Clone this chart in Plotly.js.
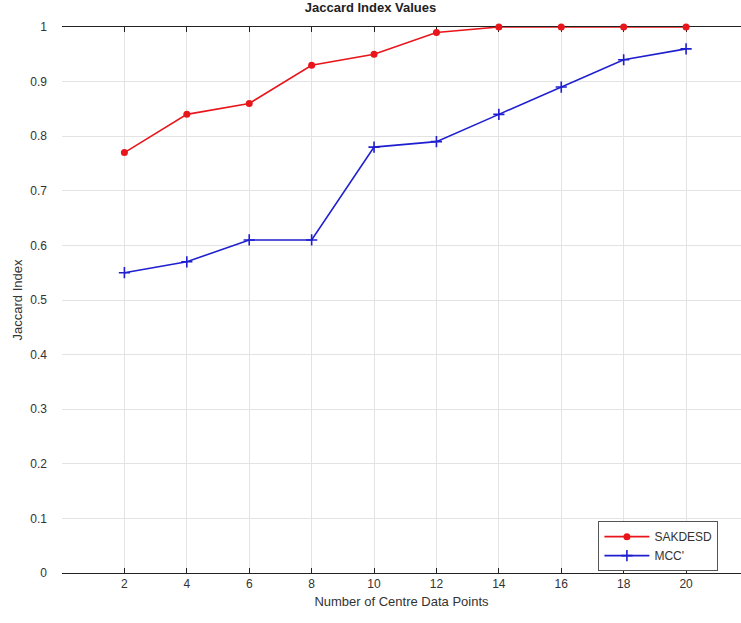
<!DOCTYPE html>
<html><head><meta charset="utf-8">
<script src="https://cdn.plot.ly/plotly-3.0.1.min.js"></script>
<style>body{margin:0;background:#fff}#c{width:741px;height:623px}</style>
</head><body><div id="c"></div>
<script>
const centres = [2,4,6,8,10,12,14,16,18,20];
const sakdesd = [0.77,0.84,0.86,0.93,0.95,0.99,1.0,1.0,1.0,1.0];
const mcc = [0.55,0.57,0.61,0.61,0.78,0.79,0.84,0.89,0.94,0.96];
const yTicks = [0,0.1,0.2,0.3,0.4,0.5,0.6,0.7,0.8,0.9,1];
const yTickText = ['0','0.1','0.2','0.3','0.4','0.5','0.6','0.7','0.8','0.9','1'];

const traces = [
  {x: centres, y: sakdesd, name: 'SAKDESD', mode: 'lines+markers', cliponaxis: false,
   line: {color: '#e8161b', width: 1.6},
   marker: {symbol: 'circle', size: 7, color: '#e8161b'}},
  {x: centres, y: mcc, name: "MCC'", mode: 'lines+markers', cliponaxis: false,
   line: {color: '#1f1fd0', width: 1.6},
   marker: {symbol: 'cross-thin', size: 8, color: '#1f1fd0', line: {color: '#1f1fd0', width: 1.6}}}
];
const layout = {
  width: 741, height: 623,
  margin: {l: 62, r: 0, t: 27, b: 50},
  paper_bgcolor: '#fff', plot_bgcolor: '#fff',
  font: {family: 'Liberation Sans, Arial, sans-serif', color: '#333', size: 12},
  title: {text: '<b>Jaccard Index Values</b>', x: 0.5, xanchor: 'center', y: 0.995, yanchor: 'top',
          font: {size: 13, color: '#222'}},
  xaxis: {range: [0, 21.76], tickvals: centres, ticktext: centres.map(String),
          showgrid: true, gridcolor: '#e3e3e3', gridwidth: 1, layer: 'below traces',
          showline: true, linecolor: '#222', linewidth: 1, mirror: 'ticks',
          ticks: 'inside', ticklen: 5, tickcolor: '#222', zeroline: false,
          title: {text: 'Number of Centre Data Points', font: {size: 13, color: '#333'}, standoff: 6}},
  yaxis: {range: [0, 1], tickvals: yTicks, ticktext: yTickText,
          showgrid: true, gridcolor: '#e3e3e3', gridwidth: 1,
          showline: false, zeroline: false, ticks: '', ticklabelstandoff: 14,
          title: {text: 'Jaccard Index', font: {size: 13, color: '#333'}, standoff: 4}},
  legend: {x: 0.79, y: 0.095, xanchor: 'left', yanchor: 'top',
           bgcolor: '#fff', bordercolor: '#555', borderwidth: 1, itemwidth: 45,
           font: {size: 12, color: '#333'}, tracegroupgap: 0},
  showlegend: true
};
Plotly.newPlot('c', traces, layout, {displayModeBar: false});
</script></body></html>
